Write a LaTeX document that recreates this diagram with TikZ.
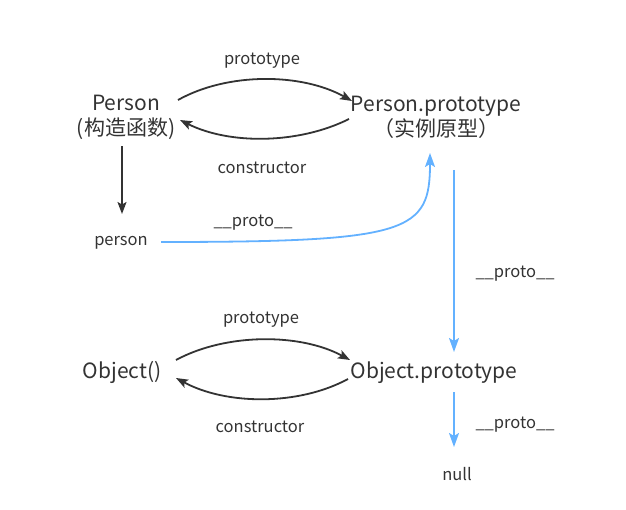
\documentclass[tikz,border=0pt]{standalone}
\usepackage{fontspec}
\setmainfont{Noto Sans CJK SC}
\usetikzlibrary{arrows.meta,calc}
\definecolor{ink}{HTML}{333333}
\definecolor{protoblue}{HTML}{63B1FF}
\begin{document}
\begin{tikzpicture}[x=1pt,y=-1pt,
  bigtext/.style={inner sep=0pt,text=ink,align=center,font=\fontsize{21}{25}\selectfont},
  smalltext/.style={inner sep=0pt,text=ink,font=\fontsize{16.5}{19}\selectfont},
  blackarr/.style={draw=ink,line width=1.8pt,-{Stealth[length=12pt,width=9pt,inset=2.5pt]}},
  bluearr/.style={draw=protoblue,line width=1.8pt,-{Stealth[length=14pt,width=10pt,inset=3pt]}}]
\useasboundingbox (0,0) rectangle (626,510);
% nodes
\node[bigtext] (P) at (126,117) {Person\\(构造函数)};
\node[bigtext] (PP) at (436,117) {Person.prototype\\（实例原型）};
\node[smalltext] (pe) at (121,242.5) {person};
\node[bigtext] (O) at (122,372.5) {Object()};
\node[bigtext] (OP) at (434,372.5) {Object.prototype};
\node[smalltext] (N) at (457,474.5) {null};
% labels
\node[smalltext] (l1) at (262,60.5) {prototype};
\node[smalltext] (l2) at (262,167.5) {constructor};
\node[smalltext] (l3) at (253,222.5) {\_\_proto\_\_};
\node[smalltext] (l4) at (515,273.5) {\_\_proto\_\_};
\node[smalltext] (l5) at (261,319.5) {prototype};
\node[smalltext] (l6) at (260,426.5) {constructor};
\node[smalltext] (l7) at (515,424.5) {\_\_proto\_\_};
% black connectors
\draw[blackarr] ($(P)+(52,-17)$) .. controls +(50,-28) and +(-50,-28) .. ($(PP)+(-84,-16)$);
\draw[blackarr] ($(PP)+(-87,2)$) .. controls +(-50,25) and +(50,25) .. ($(P)+(54,3)$);
\draw[blackarr] ($(P)+(-4,29.5)$) -- ($(pe)+(1,-28.5)$);
\draw[blackarr] ($(O)+(54,-12.5)$) .. controls +(50,-27) and +(-50,-27) .. ($(OP)+(-84,-12.5)$);
\draw[blackarr] ($(OP)+(-86,6.5)$) .. controls +(-50,27) and +(50,27) .. ($(O)+(54,5.5)$);
% blue connectors
\draw[bluearr] ($(pe)+(40,-0.5)$) .. controls (410,242) and (430,232) .. ($(PP)+(-6,36)$);
\draw[bluearr] ($(PP)+(18,53)$) -- ($(OP)+(20,-20.5)$);
\draw[bluearr] ($(OP)+(20,19.5)$) -- ($(N)+(-3,-27.5)$);
\end{tikzpicture}
\end{document}
